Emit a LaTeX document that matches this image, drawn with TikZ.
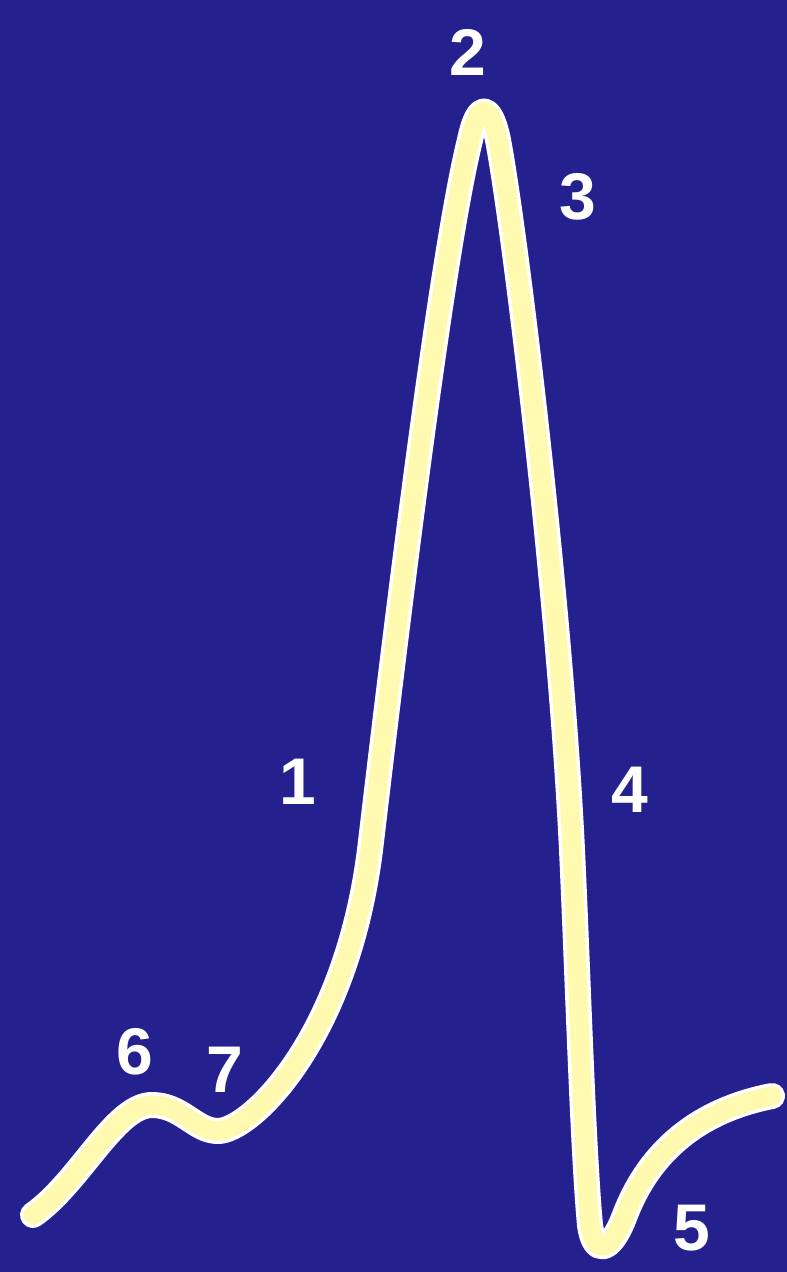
\documentclass[tikz,border=0pt]{standalone}
\usepackage{fontspec}
\setmainfont{Liberation Sans}
\definecolor{bgblue}{RGB}{36,32,142}
\definecolor{curvey}{RGB}{255,250,175}
\tikzset{
  lbl/.style={text=white,font=\fontsize{66}{66}\selectfont\bfseries,inner sep=0pt,anchor=center},
  edgeline/.style={draw=white,line width=26pt,line cap=round,line join=round},
  coreline/.style={draw=curvey,line width=19pt,line cap=round,line join=round}
}
\def\wave{(33,1215) .. controls (80,1182) and (115,1105) .. (152,1105)
  .. controls (182,1105) and (195,1131) .. (218,1131)
  .. controls (250,1131) and (346,1040) .. (370,850)
  .. controls (390,680) and (440,260) .. (470,140)
  .. controls (478,102) and (490,102) .. (498,140)
  .. controls (515,230) and (560,600) .. (572,850)
  .. controls (578,980) and (583,1150) .. (590,1225)
  .. controls (594,1255) and (610,1255) .. (625,1215)
  .. controls (650,1150) and (700,1110) .. (772,1096)}
\begin{document}
\begin{tikzpicture}[x=1pt,y=-1pt]
\fill[bgblue] (0,0) rectangle (787,1272);
\useasboundingbox (0,0) rectangle (787,1272);
\draw[edgeline] \wave;
\draw[coreline] \wave;
\node[lbl] (n2) at (468,52) {2};
\node[lbl] (n3) at (578,197) {3};
\node[lbl] (n1) at (298,782) {1};
\node[lbl] (n4) at (630,790) {4};
\node[lbl] (n6) at (135,1052) {6};
\node[lbl] (n7) at (225,1070) {7};
\node[lbl] (n5) at (692,1228) {5};
\end{tikzpicture}
\end{document}
